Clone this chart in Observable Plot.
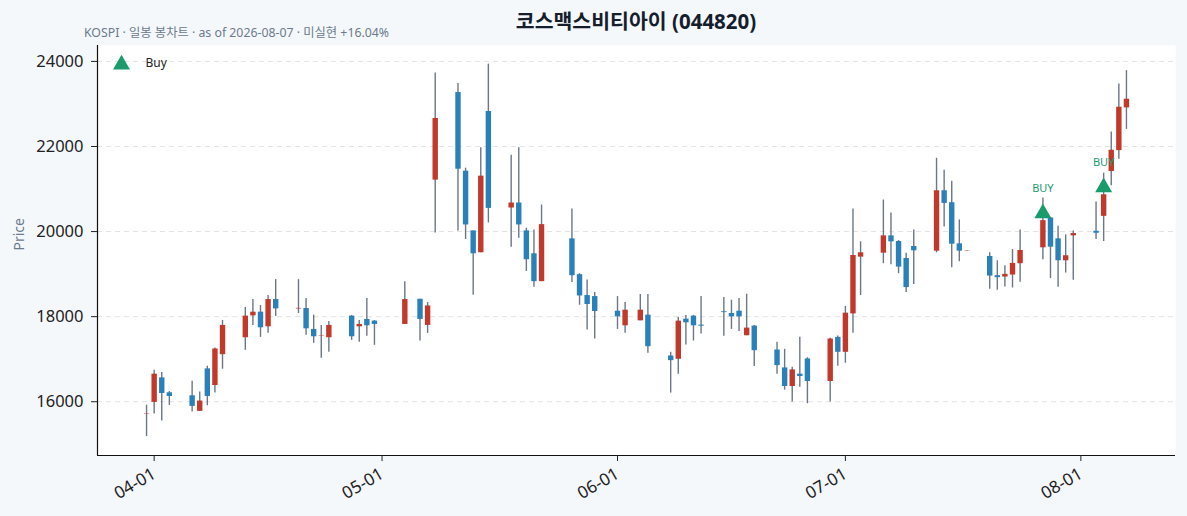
<!DOCTYPE html>
<html>
<head>
<meta charset="utf-8">
<script src="https://cdn.jsdelivr.net/npm/d3@7"></script>
<script src="https://cdn.jsdelivr.net/npm/@observablehq/plot@0.6"></script>
<style>
  body { margin: 0; background: #f5f8fb; }
  #wrap { position: relative; width: 1187px; height: 516px; background: #f5f8fb;
          font-family: "Noto Sans", "Noto Sans CJK KR", sans-serif; }
  #title { position: absolute; left: 97px; width: 1078px; top: 10px; text-align: center;
           font-size: 20.5px; line-height: 22px; font-weight: bold; color: #161e2e; }
  #sub { position: absolute; left: 84px; top: 26px; font-size: 12.3px; line-height: 13px; color: #6b7a8c; }
  #chart { position: absolute; left: 0; top: 0; }
</style>
</head>
<body>
<div id="wrap">
  <div id="chart"></div>
  <div id="title">코스맥스비티아이 (044820)</div>
  <div id="sub">KOSPI · 일봉 봉차트 · as of 2026-08-07 · 미실현 +16.04%</div>
</div>
<script>
const dates = ["2026-03-31","2026-04-01","2026-04-02","2026-04-03","2026-04-06","2026-04-07","2026-04-08","2026-04-09","2026-04-10",
"2026-04-13","2026-04-14","2026-04-15","2026-04-16","2026-04-17","2026-04-20","2026-04-21","2026-04-22","2026-04-23","2026-04-24",
"2026-04-27","2026-04-28","2026-04-29","2026-04-30","2026-05-04","2026-05-06","2026-05-07","2026-05-08",
"2026-05-11","2026-05-12","2026-05-13","2026-05-14","2026-05-15","2026-05-18","2026-05-19","2026-05-20","2026-05-21","2026-05-22",
"2026-05-26","2026-05-27","2026-05-28","2026-05-29","2026-06-01","2026-06-02","2026-06-04","2026-06-05",
"2026-06-08","2026-06-09","2026-06-10","2026-06-11","2026-06-12","2026-06-15","2026-06-16","2026-06-17","2026-06-18","2026-06-19",
"2026-06-22","2026-06-23","2026-06-24","2026-06-25","2026-06-26","2026-06-29","2026-06-30","2026-07-01","2026-07-02","2026-07-03",
"2026-07-06","2026-07-07","2026-07-08","2026-07-09","2026-07-10","2026-07-13","2026-07-14","2026-07-15","2026-07-16","2026-07-17",
"2026-07-20","2026-07-21","2026-07-22","2026-07-23","2026-07-24","2026-07-27","2026-07-28","2026-07-29","2026-07-30","2026-07-31",
"2026-08-03","2026-08-04","2026-08-05","2026-08-06","2026-08-07"];
const open  = [15700,15984,16561,16210,16140,15773,16772,16381,17106,
17504,18019,18105,17761,18402,18180,18192,17700,17535,17504,
18012,17761,17934,17895,17817,18409,17794,21209,
23267,21420,20016,19502,22823,20554,20671,20016,19478,18823,
19829,18987,18496,18472,18128,17785,17902,18035,
17076,16998,17941,18012,17800,18115,18074,18128,17551,17778,
17216,16795,16358,16648,17006,16475,17513,17162,18065,19399,
19492,19899,19766,19368,19649,19539,20959,20678,19711,19540,
19415,18963,18931,18978,19244,19618,20320,19829,19314,19899,
20007,20358,21411,21903,22907];
const high  = [15920,16741,16685,16241,16484,16227,16835,17263,17911,
18215,18402,18262,18496,18870,18870,18426,18035,17794,17888,
18028,17911,18426,17911,18823,18409,18332,23726,
23478,21490,20016,21972,23936,21794,21972,20077,20039,20624,
20531,19010,18861,18566,18472,18332,18519,18519,
17162,17988,18028,18028,18472,18449,18386,18425,18526,17794,
17396,17232,16811,17513,17036,17490,17544,18238,20531,19759,
20741,20437,19789,19492,20039,21723,21443,21185,20273,19552,
19501,19314,19197,19579,20039,20788,20335,20125,19922,20016,
20694,21373,22339,23469,23782];
const low   = [15180,15712,15549,15913,15759,15773,15906,16203,16765,
17209,17794,17513,17607,18005,18075,17560,17373,17022,17162,
17443,17396,17537,17326,17817,17427,17607,19969,
20016,19813,18503,19502,20203,19632,19843,19064,18690,18823,
18800,18269,17684,17474,17700,17607,17902,17139,
16203,16648,17333,17427,17591,17537,17700,17653,17551,16826,
16648,16273,15993,16343,15953,15993,16835,16905,17607,18496,
19244,19221,19010,18566,18753,19501,20110,19150,19291,19535,
18643,18620,18697,18674,18807,19337,18894,18690,19025,18854,
19813,19766,21076,21700,22402];
const close = [15710,16648,16194,16124,15890,16016,16124,17240,17794,
18012,18105,17738,18402,18182,18195,17714,17527,17545,17794,
17527,17817,17785,17817,18402,17934,18252,22659,
21466,20156,19478,21303,20545,20671,20156,19338,18823,20163,
18963,18486,18285,18121,17995,18152,18152,17294,
16966,17895,17855,17785,17775,18095,17995,17995,17731,17200,
16849,16358,16748,16592,16475,17474,17162,18082,19438,19501,
19899,19759,19165,18683,19548,20959,20662,19703,19539,19548,
18954,18917,18994,19251,19555,20257,19633,19314,19431,19953,
19960,20865,21911,22923,23111];

const buyDates  = ["2026-07-27","2026-08-04"];
const buyPrices = [20430, 21040];
const buyLabels = ["BUY","BUY"];

const yTicks = [16000, 18000, 20000, 22000, 24000];
const xTickDates = ["2026-04-01","2026-05-01","2026-06-01","2026-07-01","2026-08-01"];
const yLabel = "Price";
const legendLabel = "Buy";

const rows = dates.map((d, i) => ({date: new Date(d + "T00:00:00Z"), open: open[i], high: high[i], low: low[i], close: close[i]}));
const buys = buyDates.map((d, i) => ({date: new Date(d + "T00:00:00Z"), price: buyPrices[i], label: buyLabels[i]}));
const xTicks = xTickDates.map(d => new Date(d + "T00:00:00Z"));

const RED = "#c0392b", BLUE = "#2a80b9", WICK = "#6a7787", GREEN = "#1a9b6c";
const xDomain = [new Date("2026-03-24T13:00:00Z"), new Date("2026-08-13T11:00:00Z")];
const yDomain = [14736, 24374];
const FONT = '"Noto Sans", "Noto Sans CJK KR", sans-serif';

const chart = Plot.plot({
  width: 1187, height: 516,
  marginTop: 45, marginBottom: 61, marginLeft: 97, marginRight: 12,
  style: {background: "transparent", fontFamily: FONT, color: "#222"},
  x: {type: "utc", domain: xDomain},
  y: {domain: yDomain},
  marks: [
    Plot.frame({fill: "white", stroke: null}),
    Plot.gridY(yTicks, {stroke: "#e2e2e2", strokeOpacity: 1, strokeDasharray: "5,4"}),
    Plot.ruleX(rows, {x: "date", y1: "low", y2: "high", stroke: WICK, strokeWidth: 1.4}),
    Plot.ruleX(rows.filter(d => d.close >= d.open), {x: "date", y1: "open", y2: "close", stroke: RED, strokeWidth: 5.4}),
    Plot.ruleX(rows.filter(d => d.close < d.open), {x: "date", y1: "open", y2: "close", stroke: BLUE, strokeWidth: 5.4}),
    Plot.dot(buys, {x: "date", y: "price", symbol: "triangle", r: 6.3, fill: GREEN, stroke: null}),
    Plot.text(buys, {x: "date", y: "price", text: "label", dy: -25, fill: GREEN, fontSize: 11}),
    Plot.dot([legendLabel], {frameAnchor: "top-left", dx: 24, dy: 19, symbol: "triangle", r: 6.3, fill: GREEN, stroke: null}),
    Plot.text([legendLabel], {frameAnchor: "top-left", dx: 48, dy: 18, text: d => d, textAnchor: "start", lineAnchor: "middle", fontSize: 12, fill: "#222"}),
    Plot.ruleX([xDomain[0]], {stroke: "#111", strokeWidth: 1.2}),
    Plot.ruleY([yDomain[0]], {stroke: "#111", strokeWidth: 1.2}),
    Plot.axisY(yTicks, {tickSize: 6, tickPadding: 8, fontSize: 16.5, tickFormat: d3.format("d"), label: null, stroke: "#222"}),
    Plot.axisX(xTicks, {tickFormat: d3.utcFormat("%m-%d"), tickRotate: -30, tickSize: 6, tickPadding: 11, fontSize: 17, label: null, stroke: "#222"}),
    Plot.text([yLabel], {frameAnchor: "left", dx: -78, rotate: -90, text: d => d, fill: "#6b7b8c", fontSize: 14})
  ]
});
document.getElementById("chart").appendChild(chart);
</script>
</body>
</html>
